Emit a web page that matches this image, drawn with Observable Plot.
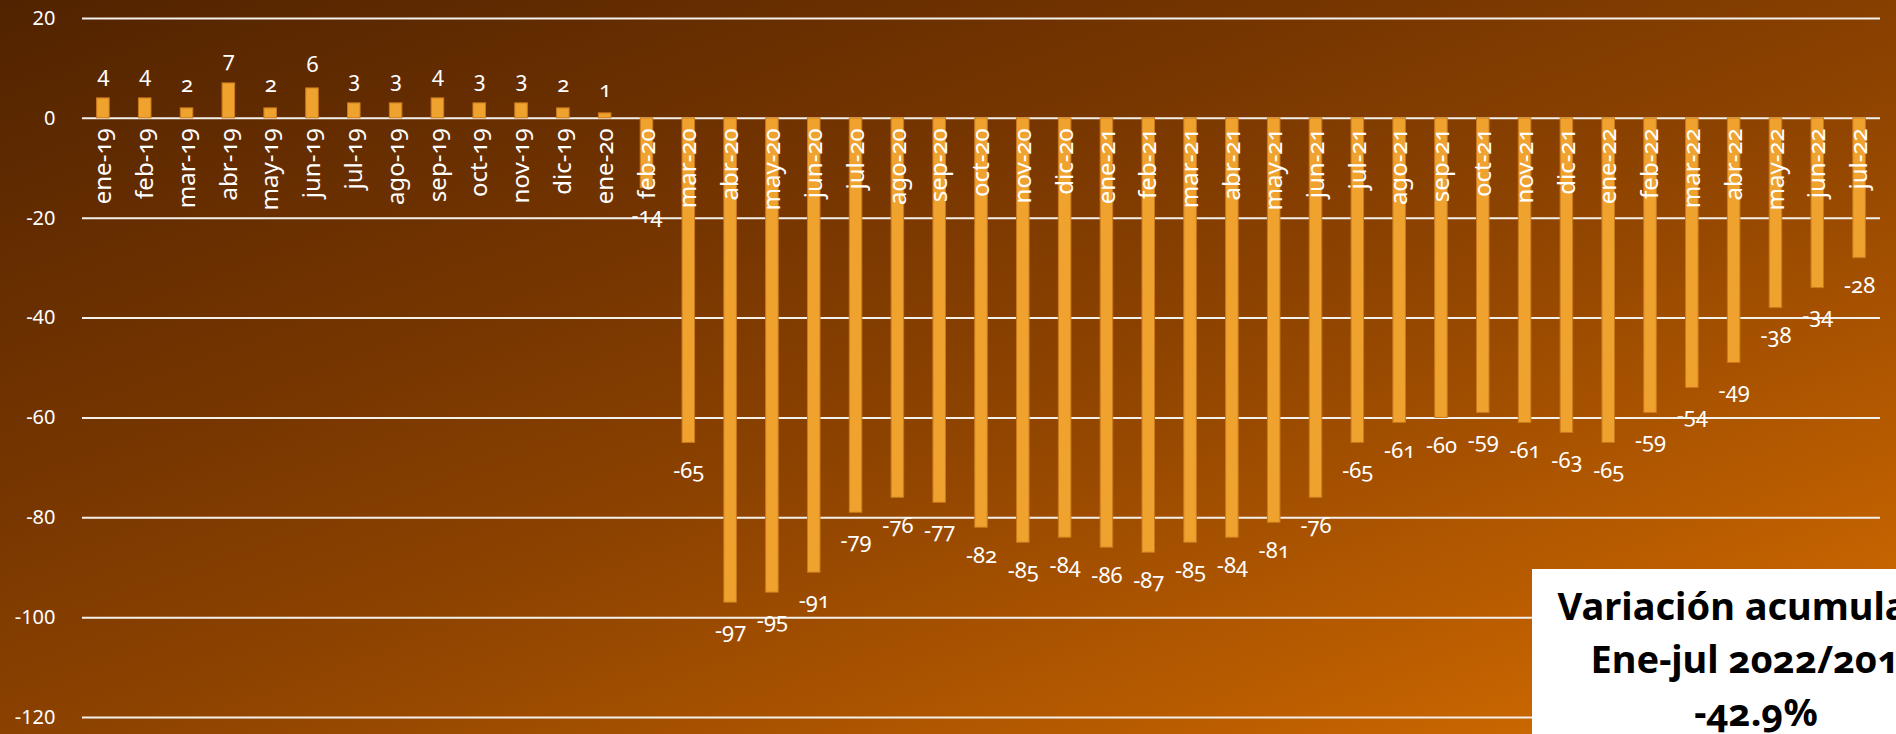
<!DOCTYPE html>
<html>
<head>
<meta charset="utf-8">
<script src="https://cdn.jsdelivr.net/npm/d3@7"></script>
<script src="https://cdn.jsdelivr.net/npm/@observablehq/plot@0.6"></script>
<style>
  html, body { margin: 0; padding: 0; width: 1896px; height: 734px; overflow: hidden; }
  body {
    background: linear-gradient(160deg, #512300 0%, #773600 35%, #8f4400 55%, #c06000 85%, #d87300 100%);
    font-family: "Noto Sans", sans-serif;
    font-variant-numeric: oldstyle-nums;
    position: relative;
  }
  #chart svg { background: transparent !important; display: block; }
  #box {
    position: absolute; left: 1532px; top: 569px; width: 448px; height: 200px;
    background: #ffffff; color: #000; text-align: center;
    font-family: "Noto Sans", sans-serif; font-weight: bold; font-size: 38px;
    line-height: 53px; padding-top: 10px; box-sizing: border-box;
    font-variant-numeric: oldstyle-nums;
  }
</style>
</head>
<body>
<div id="chart"></div>
<div id="box">Variación acumulada<br>Ene-jul 2022/2019<br>-42.9%</div>
<script>
const months = ["ene","feb","mar","abr","may","jun","jul","ago","sep","oct","nov","dic"];
const categories = [
  "ene-19","feb-19","mar-19","abr-19","may-19","jun-19","jul-19","ago-19","sep-19","oct-19","nov-19","dic-19",
  "ene-20","feb-20","mar-20","abr-20","may-20","jun-20","jul-20","ago-20","sep-20","oct-20","nov-20","dic-20",
  "ene-21","feb-21","mar-21","abr-21","may-21","jun-21","jul-21","ago-21","sep-21","oct-21","nov-21","dic-21",
  "ene-22","feb-22","mar-22","abr-22","may-22","jun-22","jul-22"
];
const values = [
  4, 4, 2, 7, 2, 6, 3, 3, 4, 3, 3, 2,
  1, -14, -65, -97, -95, -91, -79, -76, -77, -82, -85, -84,
  -86, -87, -85, -84, -81, -76, -65, -61, -60, -59, -61, -63,
  -65, -59, -54, -49, -38, -34, -28
];
const yTicks = [20, 0, -20, -40, -60, -80, -100, -120];

const data = categories.map((c, i) => ({cat: c, v: values[i]}));
const pos = data.filter(d => d.v >= 0);
const neg = data.filter(d => d.v < 0);

const chart = Plot.plot({
  width: 1896,
  height: 734,
  marginTop: 18,
  marginBottom: 17,
  marginLeft: 82,
  marginRight: 16,
  style: {background: "transparent", fontFamily: "Noto Sans, sans-serif", color: "white"},
  x: {domain: categories, paddingInner: 0.7, paddingOuter: 0.35, axis: null},
  y: {domain: [-120, 20], axis: null},
  marks: [
    Plot.ruleY(yTicks, {stroke: "#f4f0ea", strokeWidth: 2}),
    Plot.axisY({ticks: yTicks, tickSize: 0, tickPadding: 27, fontSize: 20, fill: "white", tickFormat: d => String(d), label: null}),
    Plot.barY(data, {x: "cat", y: "v", fill: "#f0a22f", stroke: "#c97a1c", strokeWidth: 1}),
    Plot.text(data, {x: "cat", y: 0, text: "cat", rotate: -90, textAnchor: "end", dy: 10, fill: "white", fontSize: 24}),
    Plot.text(pos, {x: "cat", y: "v", text: d => String(d.v), dy: -23, fill: "white", fontSize: 22}),
    Plot.text(neg, {x: "cat", y: "v", text: d => String(d.v), dy: 28, fill: "white", fontSize: 22})
  ]
});
chart.style.fontVariantNumeric = "oldstyle-nums";
document.getElementById("chart").appendChild(chart);
</script>
</body>
</html>
